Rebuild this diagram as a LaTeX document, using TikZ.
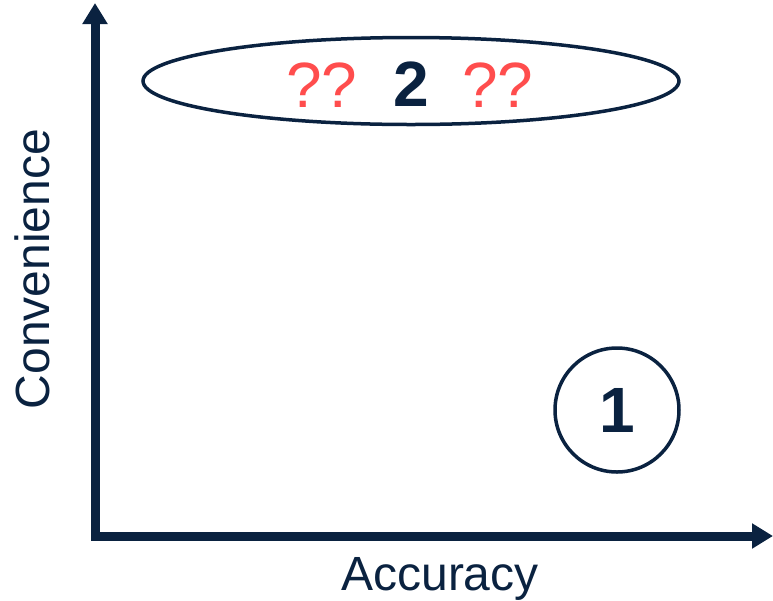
\documentclass[tikz,border=0pt]{standalone}
\usepackage{fontspec}
\setmainfont{Liberation Sans}
\usetikzlibrary{arrows.meta,shapes.geometric}
\definecolor{navy}{HTML}{0A2240}
\definecolor{qred}{HTML}{FF4D4D}

\begin{document}
\begin{tikzpicture}[x=0.5pt,y=-0.5pt,>={Triangle[width=12pt,length=10.5pt]},
  every node/.style={text=navy},
  axislabel/.style={font=\fontsize{24}{28}\selectfont},
  bignum/.style={font=\fontsize{32}{38}\selectfont\bfseries},
  ask/.style={font=\fontsize{32}{38}\selectfont,text=qred}]
\useasboundingbox (0,0) rectangle (773,601);
\coordinate (origin) at (95,536);
\coordinate (ytip) at (95,3);
\coordinate (xtip) at (773,536);
\draw[<->,navy,line width=4.5pt,line join=miter] (ytip) |- (origin) -- (xtip);
\node[axislabel,anchor=base] (acc) at (440,590) {Accuracy};
\node[axislabel,anchor=base,rotate=90] (conv) at (49,269) {Convenience};
\node[ellipse,draw=navy,line width=1.75pt,minimum width=268pt,minimum height=43.5pt,inner sep=0pt] (zone2) at (411,81) {};
\node[bignum] (two) at (411,84) {2};
\node[ask] (askl) at (322,85) {??};
\node[ask] (askr) at (498,85) {??};
\node[circle,draw=navy,line width=1.75pt,minimum size=62pt,inner sep=0pt,bignum] (one) at (617,410) {1};
\end{tikzpicture}
\end{document}
